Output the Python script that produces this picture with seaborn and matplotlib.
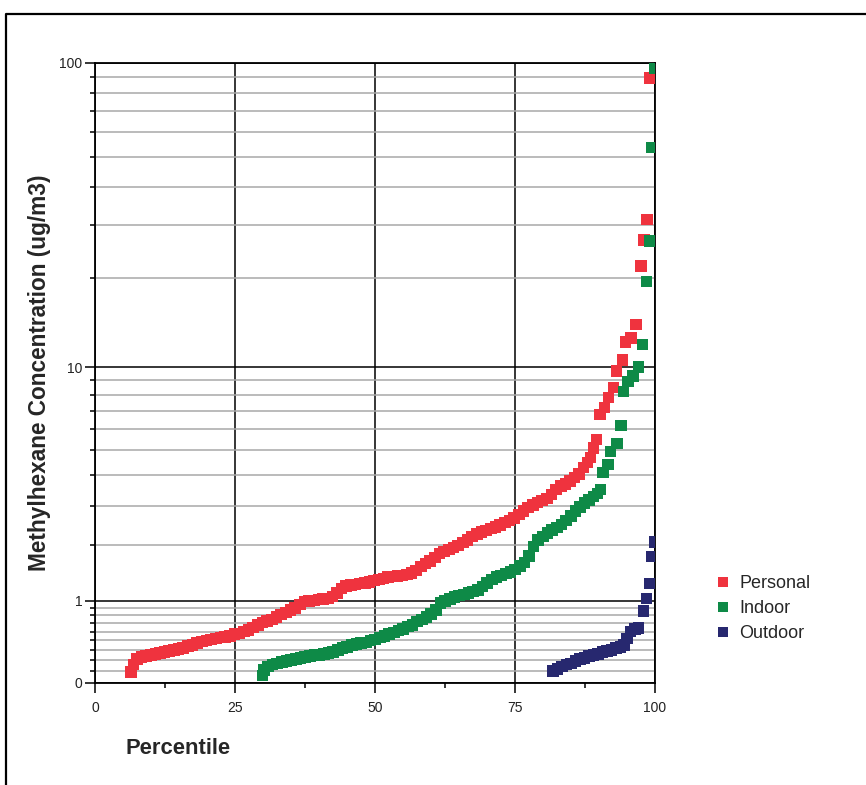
import numpy as np
import pandas as pd
import matplotlib
matplotlib.use("Agg")
import matplotlib.pyplot as plt
from matplotlib.lines import Line2D
import seaborn as sns

# percentile plot data (percentile, ug/m3)
pct_personal = [6.4, 6.9, 7.5, 8.3, 9.1, 10.0, 10.8, 11.6, 12.4, 13.2,
                14.1, 14.9, 15.7, 16.6, 17.4, 18.2, 19.1, 19.9, 20.7, 21.6,
                22.4, 23.2, 24.1, 24.9, 25.7, 26.6, 27.4, 28.2, 29.1, 29.9,
                30.7, 31.6, 32.4, 33.2, 34.1, 34.9, 35.7, 36.6, 37.4, 38.2,
                39.1, 39.9, 40.7, 41.6, 42.4, 43.2, 44.0, 44.8, 45.7, 46.5,
                47.3, 48.2, 49.0, 49.8, 50.7, 51.5, 52.3, 53.2, 54.0, 54.8,
                55.7, 56.5, 57.3, 58.2, 59.0, 59.8, 60.7, 61.5, 62.3, 63.2,
                64.0, 64.8, 65.7, 66.5, 67.3, 68.2, 69.0, 69.8, 70.7, 71.5,
                72.3, 73.2, 74.0, 74.8, 75.7, 76.5, 77.3, 78.2, 79.0, 79.8,
                80.7, 81.5, 82.3, 83.2, 84.0, 84.8, 85.6, 86.4, 87.2, 87.9,
                88.5, 89.0, 89.6, 90.2, 91.0, 91.7, 92.6, 93.1, 94.2, 94.7,
                95.7, 96.6, 97.5, 98.0, 98.6, 99.1]
conc_personal = [0.19, 0.26, 0.31, 0.33, 0.34, 0.35, 0.36, 0.37, 0.38, 0.39,
                 0.40, 0.41, 0.42, 0.44, 0.45, 0.47, 0.49, 0.50, 0.51, 0.52,
                 0.53, 0.54, 0.55, 0.57, 0.58, 0.60, 0.62, 0.65, 0.68, 0.71,
                 0.73, 0.75, 0.78, 0.81, 0.84, 0.87, 0.90, 0.95, 0.99, 1.00,
                 1.01, 1.02, 1.03, 1.04, 1.07, 1.12, 1.19, 1.23, 1.25, 1.26,
                 1.27, 1.28, 1.30, 1.32, 1.34, 1.36, 1.38, 1.39, 1.40, 1.41,
                 1.43, 1.45, 1.50, 1.57, 1.63, 1.68, 1.75, 1.83, 1.87, 1.91,
                 1.95, 2.00, 2.06, 2.12, 2.20, 2.26, 2.31, 2.35, 2.39, 2.43,
                 2.48, 2.54, 2.60, 2.66, 2.75, 2.85, 2.95, 3.03, 3.10, 3.16,
                 3.22, 3.35, 3.50, 3.62, 3.70, 3.80, 3.92, 4.05, 4.30, 4.50,
                 4.70, 5.10, 5.50, 6.80, 7.20, 7.80, 8.50, 9.70, 10.6, 12.2,
                 12.6, 14.0, 22.0, 26.8, 31.3, 89.5]

pct_indoor = [29.9, 30.2, 30.9, 31.7, 32.5, 33.4, 34.2, 35.0, 35.9, 36.7,
              37.5, 38.4, 39.2, 40.0, 40.9, 41.7, 42.5, 43.4, 44.2, 45.0,
              45.9, 46.7, 47.5, 48.4, 49.2, 50.0, 50.9, 51.7, 52.5, 53.4,
              54.2, 55.0, 55.9, 56.7, 57.5, 58.4, 59.2, 60.0, 60.9, 61.7,
              62.5, 63.4, 64.2, 65.0, 65.9, 66.7, 67.5, 68.4, 69.2, 70.0,
              70.9, 71.7, 72.5, 73.4, 74.2, 75.0, 75.9, 76.7, 77.5, 78.3,
              79.1, 80.0, 80.8, 81.6, 82.5, 83.3, 84.1, 85.0, 85.8, 86.6,
              87.4, 88.2, 89.0, 89.7, 90.3, 90.7, 91.6, 92.1, 93.2, 93.9,
              94.4, 95.2, 96.1, 97.1, 97.8, 98.5, 99.0, 99.4, 99.9]
conc_indoor = [0.16, 0.21, 0.24, 0.26, 0.27, 0.28, 0.29, 0.30, 0.31, 0.32,
               0.33, 0.34, 0.35, 0.35, 0.36, 0.37, 0.38, 0.40, 0.42, 0.43,
               0.45, 0.46, 0.47, 0.48, 0.50, 0.51, 0.53, 0.55, 0.57, 0.59,
               0.61, 0.63, 0.66, 0.68, 0.72, 0.75, 0.78, 0.82, 0.87, 0.97,
               1.00, 1.03, 1.06, 1.08, 1.10, 1.12, 1.14, 1.17, 1.22, 1.28,
               1.34, 1.38, 1.41, 1.44, 1.47, 1.52, 1.58, 1.65, 1.78, 1.97,
               2.12, 2.20, 2.28, 2.36, 2.42, 2.50, 2.60, 2.72, 2.85, 2.97,
               3.08, 3.18, 3.28, 3.38, 3.50, 4.10, 4.40, 4.95, 5.30, 6.20,
               8.20, 8.90, 9.30, 10.0, 12.0, 19.5, 26.6, 53.6, 96.0]

pct_outdoor = [81.8, 82.6, 83.4, 84.2, 85.0, 85.8, 86.6, 87.4, 88.2, 89.0,
               89.8, 90.6, 91.4, 92.2, 93.0, 93.8, 94.5, 95.0, 95.6, 96.4,
               97.1, 97.9, 98.5, 99.1, 99.5, 99.9]
conc_outdoor = [0.20, 0.22, 0.24, 0.26, 0.27, 0.29, 0.31, 0.32, 0.34, 0.35,
                0.36, 0.38, 0.39, 0.40, 0.42, 0.43, 0.45, 0.52, 0.60, 0.63,
                0.64, 0.86, 1.04, 1.27, 1.77, 2.07]

sources = ["Personal", "Indoor", "Outdoor"]
colors = ["#EF333E", "#0E8A47", "#27286F"]

df = pd.concat([
    pd.DataFrame({"Percentile": pct_personal, "Conc": conc_personal, "Source": "Personal"}),
    pd.DataFrame({"Percentile": pct_indoor, "Conc": conc_indoor, "Source": "Indoor"}),
    pd.DataFrame({"Percentile": pct_outdoor, "Conc": conc_outdoor, "Source": "Outdoor"}),
])

sns.set_style("white")
plt.rcParams["font.family"] = ["Liberation Sans", "DejaVu Sans"]

fig = plt.figure(figsize=(8.66, 7.85), dpi=100)
ax = fig.add_axes([95 / 866, 102 / 785, 560 / 866, 620 / 785])

# y axis is log10(c + 1), labels as whole numbers (0.1 shows as "0")
ax.set_yscale("function", functions=(lambda v: np.log10(np.clip(v, 1e-6, None) + 1),
                                     lambda u: 10 ** u - 1))

sns.scatterplot(data=df, x="Percentile", y="Conc", hue="Source", hue_order=sources,
                palette=colors, marker="s", s=68, linewidth=0, ax=ax, zorder=3)

ax.set_xlim(0, 100)
ax.set_ylim(0.1, 100)

ax.set_xticks([0, 25, 50, 75, 100])
ax.set_xticks([12.5, 37.5, 62.5, 87.5], minor=True)
ax.set_yticks([0.1, 1, 10, 100])
ax.set_yticklabels(["0", "1", "10", "100"])
minor_y = [0.2, 0.3, 0.4, 0.5, 0.6, 0.7, 0.8, 0.9,
           2, 3, 4, 5, 6, 7, 8, 9, 20, 30, 40, 50, 60, 70, 80, 90]
ax.set_yticks(minor_y, minor=True)

ax.set_axisbelow(True)
ax.grid(which="minor", axis="y", color="#A8A8A8", linewidth=1.1)
ax.grid(which="major", axis="y", color="black", linewidth=1.1)
ax.grid(which="major", axis="x", color="black", linewidth=1.1)

for s in ax.spines.values():
    s.set_color("black")
    s.set_linewidth(1.3)

ax.tick_params(axis="both", which="major", direction="out", length=7, width=1.1,
               color="black", labelsize=10, labelcolor="#222222", left=True, bottom=True)
ax.tick_params(axis="both", which="minor", direction="out", length=3.5, width=1.1,
               color="black", left=True, bottom=True)
ax.tick_params(axis="y", which="major", pad=2)
ax.tick_params(axis="x", which="major", pad=6)

ax.set_xlabel("")
ax.set_ylabel("Methylhexane Concentration (ug/m3)", fontsize=16.3, fontweight="bold")
ax.yaxis.set_label_coords(-0.078, 0.5)
fig.text(178 / 866, 1 - 748 / 785, "Percentile", fontsize=15.8, fontweight="bold",
         ha="center", va="center")

handles = [Line2D([], [], marker="s", linestyle="", markersize=7,
                  markerfacecolor=c, markeredgewidth=0) for c in colors]
ax.legend(handles, sources, loc="upper left", bbox_to_anchor=(715 / 866, 1 - 575 / 785),
          bbox_transform=fig.transFigure, frameon=False, fontsize=13,
          handlelength=0.9, handletextpad=0.45, labelspacing=0.45,
          borderpad=0, borderaxespad=0)

# outer frame (cropped on the right and bottom)
fig.add_artist(Line2D([6 / 866, 6 / 866, 1], [0, 1 - 14 / 785, 1 - 14 / 785],
                      transform=fig.transFigure, color="black", linewidth=1.6))

fig.savefig("out.png", dpi=100)
